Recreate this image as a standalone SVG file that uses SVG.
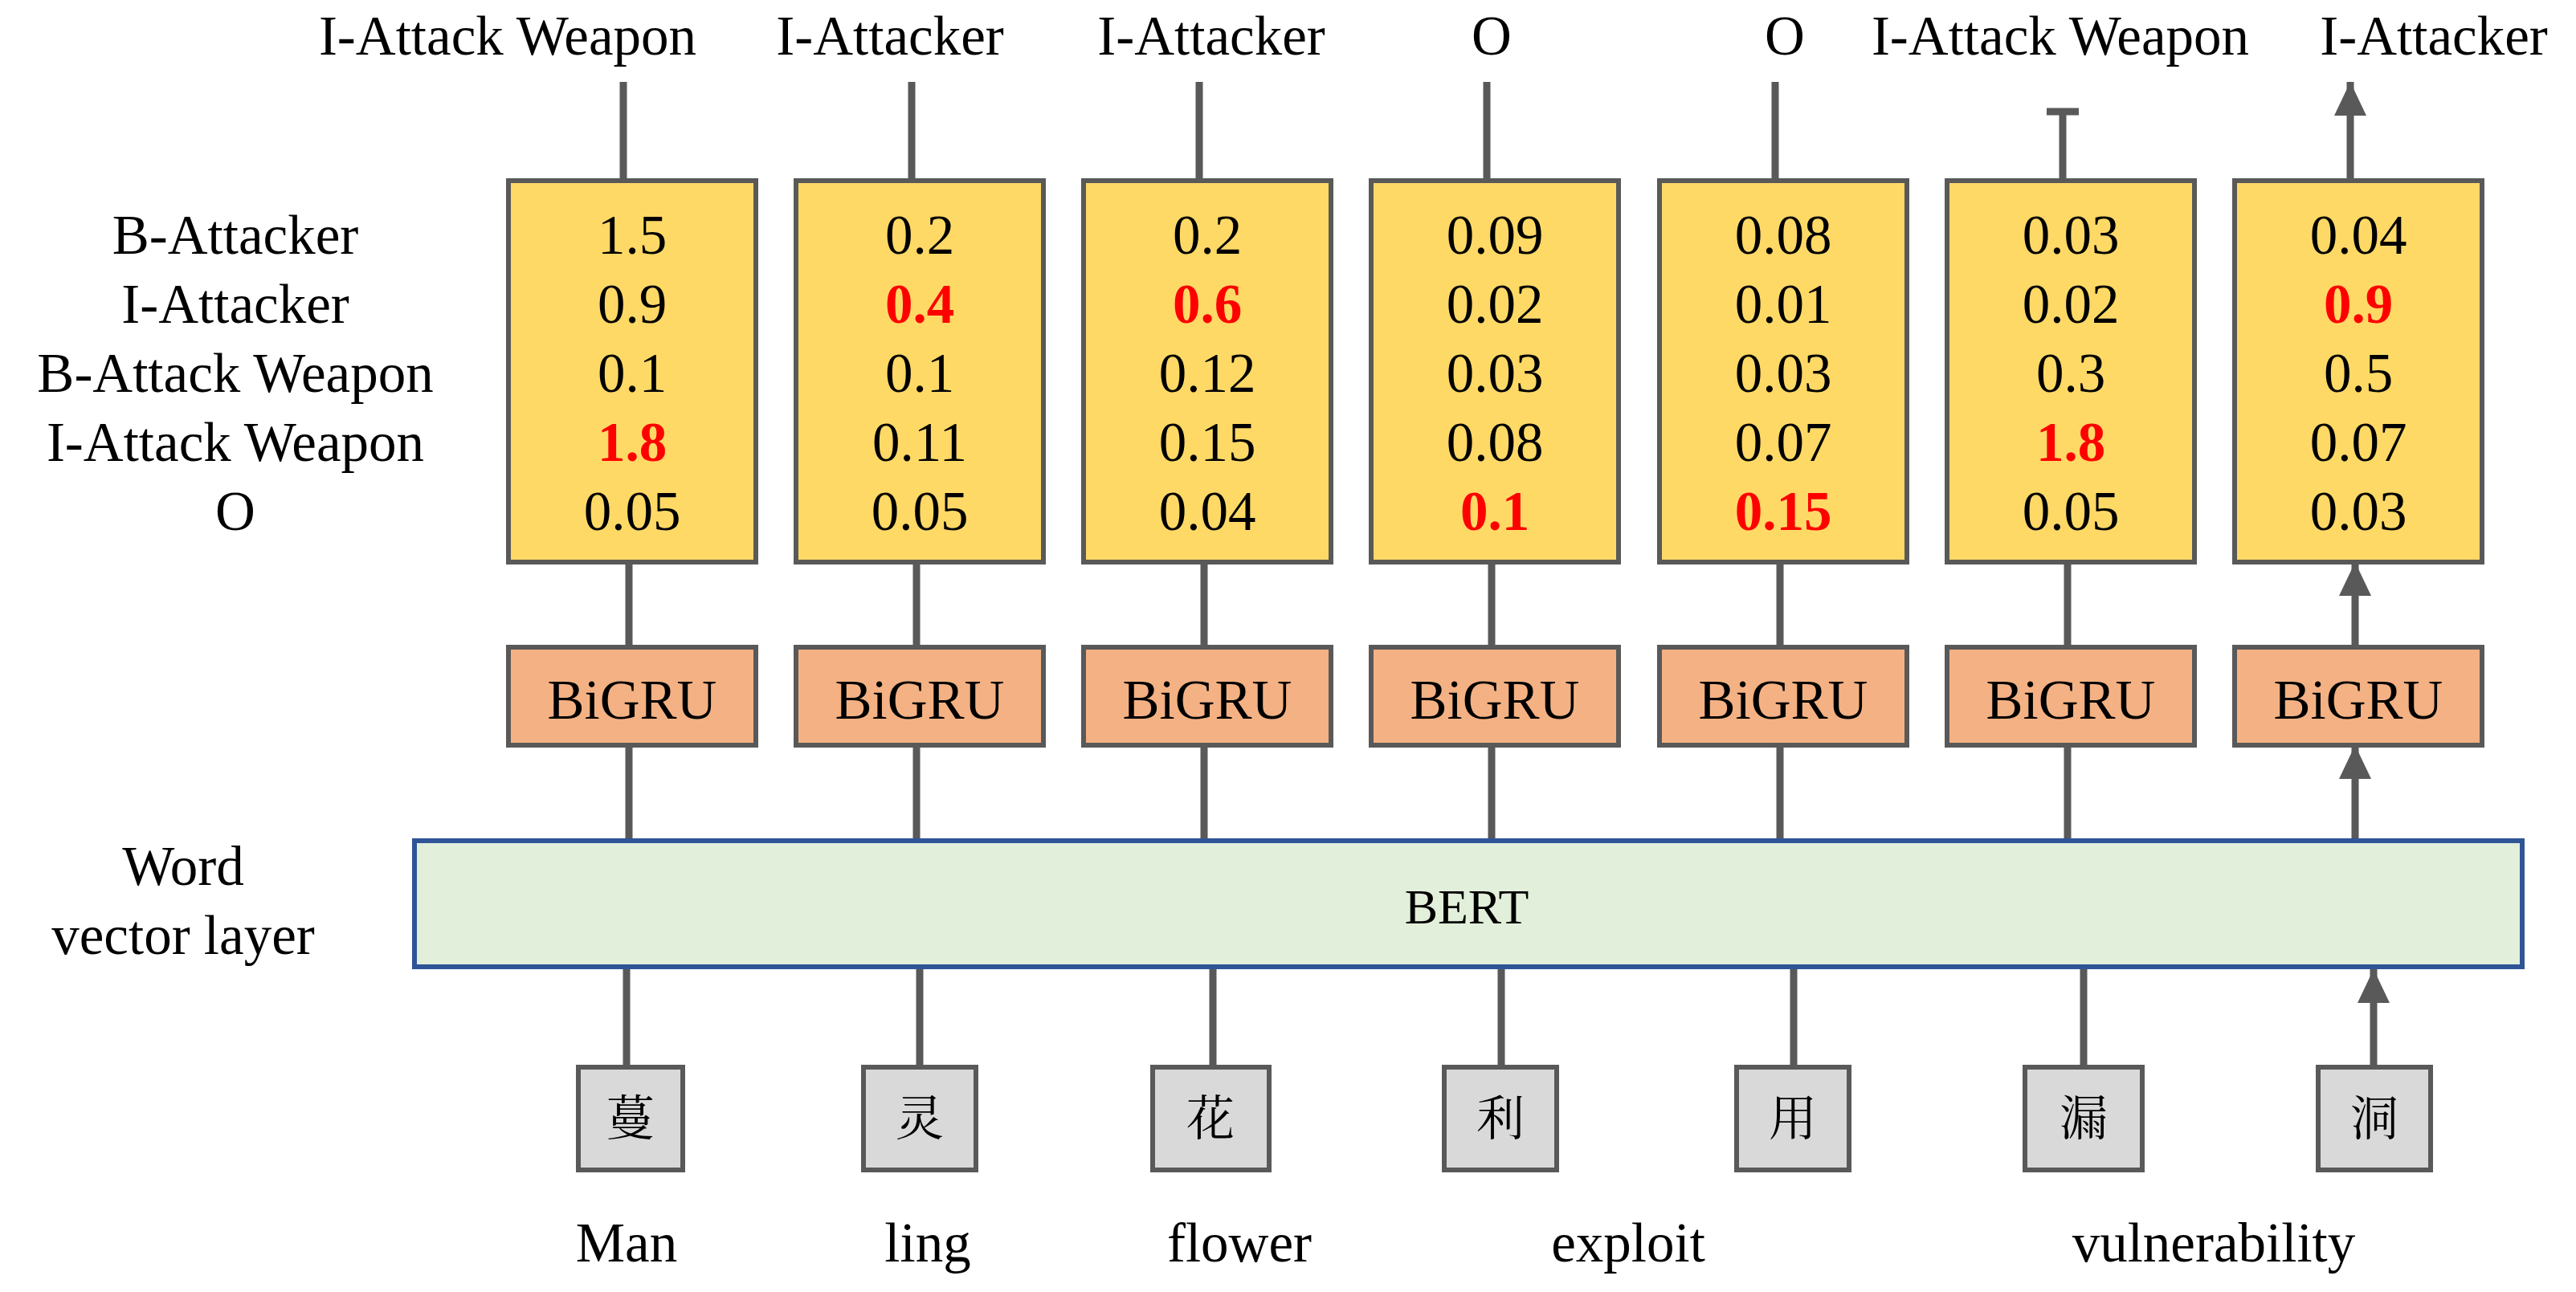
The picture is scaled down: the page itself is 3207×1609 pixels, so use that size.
<svg xmlns="http://www.w3.org/2000/svg" width="3207" height="1609" viewBox="0 0 3207 1609">
<style>
text{font-family:"Liberation Serif","Noto Sans CJK SC",serif;font-size:69px;fill:#000;text-anchor:middle}
.cj{font-family:"Noto Serif CJK SC","Noto Sans CJK SC",serif;font-size:60px}
.r{fill:#ff0000;font-weight:bold}
.y{fill:#ffd966;stroke:#595959;stroke-width:6}
.g{fill:#f4b183;stroke:#595959;stroke-width:6}
.c{fill:#d9d9d9;stroke:#595959;stroke-width:6}
.ln{stroke:#595959;stroke-width:9;fill:none}
</style>
<defs>
<marker id="ah" markerUnits="userSpaceOnUse" markerWidth="42" markerHeight="40" refX="42" refY="20" orient="auto"><path d="M0,0L42,20L0,40Z" fill="#595959"/></marker>
</defs>
<g id="left-labels">
<text x="293" y="316">B-Attacker</text>
<text x="293" y="402">I-Attacker</text>
<text x="293" y="488">B-Attack Weapon</text>
<text x="293" y="574">I-Attack Weapon</text>
<text x="293" y="660">O</text>
<text x="228" y="1102">Word</text>
<text x="228" y="1188">vector layer</text>
</g>
<g id="top-labels">
<text x="632" y="68">I-Attack Weapon</text>
<text x="1108" y="68">I-Attacker</text>
<text x="1508" y="68">I-Attacker</text>
<text x="1857" y="68">O</text>
<text x="2222" y="68">O</text>
<text x="2565" y="68">I-Attack Weapon</text>
<text x="3030" y="68">I-Attacker</text>
</g>
<g id="connectors">
<path class="ln" marker-end="url(#ah)" d="M776,225V102M1135,225V102M1493,225V102M1851,225V102M2210,225V102M2926,225V102"/>
<path class="ln" d="M2568,225V139M2548,139H2588"/>
<path class="ln" marker-end="url(#ah)" d="M783,806V700M1141,806V700M1499,806V700M1857,806V700M2216,806V700M2574,806V700M2932,806V700"/>
<path class="ln" marker-end="url(#ah)" d="M783,1044V928M1141,1044V928M1499,1044V928M1857,1044V928M2216,1044V928M2574,1044V928M2932,1044V928"/>
<path class="ln" marker-end="url(#ah)" d="M780,1329V1207M1145,1329V1207M1510,1329V1207M1869,1329V1207M2233,1329V1207M2594,1329V1207M2955,1329V1207"/>
</g>
<g id="score1"><rect class="y" x="633" y="225" width="308" height="475"/><text x="787" y="316">1.5</text><text x="787" y="402">0.9</text><text x="787" y="488">0.1</text><text class="r" x="787" y="574">1.8</text><text x="787" y="660">0.05</text></g>
<g id="score2"><rect class="y" x="991" y="225" width="308" height="475"/><text x="1145" y="316">0.2</text><text class="r" x="1145" y="402">0.4</text><text x="1145" y="488">0.1</text><text x="1145" y="574">0.11</text><text x="1145" y="660">0.05</text></g>
<g id="score3"><rect class="y" x="1349" y="225" width="308" height="475"/><text x="1503" y="316">0.2</text><text class="r" x="1503" y="402">0.6</text><text x="1503" y="488">0.12</text><text x="1503" y="574">0.15</text><text x="1503" y="660">0.04</text></g>
<g id="score4"><rect class="y" x="1707" y="225" width="308" height="475"/><text x="1861" y="316">0.09</text><text x="1861" y="402">0.02</text><text x="1861" y="488">0.03</text><text x="1861" y="574">0.08</text><text class="r" x="1861" y="660">0.1</text></g>
<g id="score5"><rect class="y" x="2066" y="225" width="308" height="475"/><text x="2220" y="316">0.08</text><text x="2220" y="402">0.01</text><text x="2220" y="488">0.03</text><text x="2220" y="574">0.07</text><text class="r" x="2220" y="660">0.15</text></g>
<g id="score6"><rect class="y" x="2424" y="225" width="308" height="475"/><text x="2578" y="316">0.03</text><text x="2578" y="402">0.02</text><text x="2578" y="488">0.3</text><text class="r" x="2578" y="574">1.8</text><text x="2578" y="660">0.05</text></g>
<g id="score7"><rect class="y" x="2782" y="225" width="308" height="475"/><text x="2936" y="316">0.04</text><text class="r" x="2936" y="402">0.9</text><text x="2936" y="488">0.5</text><text x="2936" y="574">0.07</text><text x="2936" y="660">0.03</text></g>
<g id="bigru1"><rect class="g" x="633" y="806" width="308" height="122"/><text x="787" y="895">BiGRU</text></g>
<g id="bigru2"><rect class="g" x="991" y="806" width="308" height="122"/><text x="1145" y="895">BiGRU</text></g>
<g id="bigru3"><rect class="g" x="1349" y="806" width="308" height="122"/><text x="1503" y="895">BiGRU</text></g>
<g id="bigru4"><rect class="g" x="1707" y="806" width="308" height="122"/><text x="1861" y="895">BiGRU</text></g>
<g id="bigru5"><rect class="g" x="2066" y="806" width="308" height="122"/><text x="2220" y="895">BiGRU</text></g>
<g id="bigru6"><rect class="g" x="2424" y="806" width="308" height="122"/><text x="2578" y="895">BiGRU</text></g>
<g id="bigru7"><rect class="g" x="2782" y="806" width="308" height="122"/><text x="2936" y="895">BiGRU</text></g>
<g id="bert"><rect x="516" y="1047" width="2624" height="157" fill="#e2efda" stroke="#2f5597" stroke-width="6"/><text x="1826" y="1150" style="font-size:62px">BERT</text></g>
<g id="c1"><rect class="c" x="720" y="1329" width="130" height="128"/><text class="cj" x="785" y="1414">蔓</text></g>
<g id="c2"><rect class="c" x="1075" y="1329" width="140" height="128"/><text class="cj" x="1145" y="1414">灵</text></g>
<g id="c3"><rect class="c" x="1435" y="1329" width="145" height="128"/><text class="cj" x="1507" y="1414">花</text></g>
<g id="c4"><rect class="c" x="1798" y="1329" width="140" height="128"/><text class="cj" x="1868" y="1414">利</text></g>
<g id="c5"><rect class="c" x="2162" y="1329" width="140" height="128"/><text class="cj" x="2232" y="1414">用</text></g>
<g id="c6"><rect class="c" x="2521" y="1329" width="146" height="128"/><text class="cj" x="2594" y="1414">漏</text></g>
<g id="c7"><rect class="c" x="2886" y="1329" width="140" height="128"/><text class="cj" x="2956" y="1414">洞</text></g>
<g id="words">
<text x="780" y="1571">Man</text>
<text x="1155" y="1571">ling</text>
<text x="1543" y="1571">flower</text>
<text x="2027" y="1571">exploit</text>
<text x="2756" y="1571">vulnerability</text>
</g>
</svg>
